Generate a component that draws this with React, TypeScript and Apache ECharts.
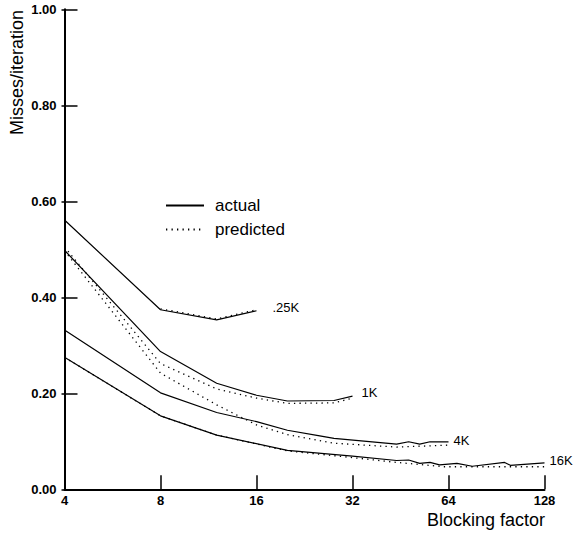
import React, { useEffect, useRef } from "react";
import * as echarts from "echarts";

// Blocking factor (x) vs misses/iteration (y)
const actual025K: [number, number][] = [[4, 0.561], [8, 0.374], [12, 0.353], [16, 0.372]];
const predicted025K: [number, number][] = [[8, 0.376], [12, 0.355], [16, 0.374]];

const actual1K: [number, number][] = [[4, 0.498], [8, 0.287], [12, 0.221], [16, 0.196], [20, 0.184], [28, 0.185], [32, 0.194]];
const predicted1K: [number, number][] = [[4, 0.505], [8, 0.262], [12, 0.209], [16, 0.19], [20, 0.179], [28, 0.18], [32, 0.19]];

const actual4K: [number, number][] = [[4, 0.332], [8, 0.201], [12, 0.16], [16, 0.141], [20, 0.123], [25, 0.112], [28, 0.106], [44, 0.094], [48, 0.099], [52, 0.094], [56, 0.099], [64, 0.099]];
const predicted4K: [number, number][] = [[4, 0.497], [8, 0.242], [12, 0.176], [16, 0.134], [20, 0.114], [28, 0.096], [44, 0.088], [64, 0.092]];

const actual16K: [number, number][] = [[4, 0.275], [8, 0.153], [12, 0.113], [20, 0.081], [32, 0.069], [44, 0.06], [48, 0.061], [52, 0.054], [56, 0.056], [60, 0.051], [68, 0.054], [76, 0.048], [96, 0.056], [100, 0.05], [128, 0.055]];
const predicted16K: [number, number][] = [[4, 0.275], [8, 0.153], [12, 0.113], [20, 0.08], [32, 0.066], [44, 0.056], [62, 0.047], [128, 0.047]];

const sizeLabels = [".25K", "1K", "4K", "16K"];
const legendNames = ["actual", "predicted"];
const xTicks = [4, 8, 16, 32, 64, 128];

const FONT = "'Liberation Sans', Arial, Helvetica, sans-serif";

export default function App() {
  const ref = useRef<HTMLDivElement>(null);
  useEffect(() => {
    if (!ref.current) return;
    const chart = echarts.init(ref.current, null, { renderer: "svg" });
    const actuals = [actual025K, actual1K, actual4K, actual16K];
    const predicteds = [predicted025K, predicted1K, predicted4K, predicted16K];
    const labelOffsets: [number, number][] = [[11, -3], [4, -4], [0, -1], [0, -2]];
    const series: any[] = [];
    predicteds.forEach((d) => {
      series.push({
        name: legendNames[1],
        type: "line",
        data: d,
        symbol: "none",
        showSymbol: false,
        lineStyle: { color: "#000", width: 1.3, type: [1.3, 4.2] },
        itemStyle: { color: "#000" },
        z: 2,
      });
    });
    actuals.forEach((d, i) => {
      series.push({
        name: legendNames[0],
        type: "line",
        data: d,
        symbol: "none",
        showSymbol: false,
        lineStyle: { color: "#000", width: 1.2, type: "solid" },
        itemStyle: { color: "#000" },
        z: 3,
        endLabel: {
          show: true,
          formatter: sizeLabels[i],
          color: "#000",
          fontSize: 13,
          fontFamily: FONT,
          distance: 5,
          offset: labelOffsets[i],
        },
      });
    });
    chart.setOption({
      animation: false,
      backgroundColor: "#fff",
      textStyle: { fontFamily: FONT },
      grid: { left: 64.5, right: 29.5, top: 9.3, bottom: 43.7, containLabel: false },
      legend: {
        data: legendNames,
        orient: "vertical",
        left: 160,
        top: 192,
        itemWidth: 38,
        itemHeight: 10,
        itemGap: 7,
        itemStyle: { opacity: 0 },
        lineStyle: { opacity: 1 },
        textStyle: { fontSize: 17, color: "#000", fontFamily: FONT, padding: [0, 0, 0, 6] },
        selectedMode: false,
      },
      xAxis: {
        type: "log",
        logBase: 2,
        min: xTicks[0],
        max: xTicks[xTicks.length - 1],
        splitNumber: 5,
        axisLine: { lineStyle: { color: "#000", width: 2 } },
        axisTick: { inside: true, length: 14, lineStyle: { color: "#000", width: 1.5 } },
        axisLabel: {
          color: "#000",
          fontWeight: "bold",
          fontSize: 13,
          margin: 5,
          fontFamily: FONT,
          formatter: (v: number) => String(Math.round(v)),
        },
        splitLine: { show: false },
      },
      yAxis: [
        {
          type: "value",
          min: 0,
          max: 1,
          interval: 0.2,
          axisLine: { show: true, lineStyle: { color: "#000", width: 2 } },
          axisTick: { show: true, inside: true, length: 13, lineStyle: { color: "#000", width: 1.5 } },
          axisLabel: {
            color: "#000",
            fontWeight: "bold",
            fontSize: 13,
            margin: 8,
            fontFamily: FONT,
            formatter: (v: number) => v.toFixed(2),
          },
          splitLine: { show: false },
        },
        {
          type: "value",
          position: "left",
          min: 0,
          max: 1,
          interval: 0.2,
          axisLine: { show: false },
          axisTick: { show: true, inside: false, length: 3, lineStyle: { color: "#000", width: 1.5 } },
          axisLabel: { show: false },
          splitLine: { show: false },
        },
      ],
      graphic: [
        {
          type: "text",
          x: 17,
          y: 10,
          rotation: Math.PI / 2,
          style: {
            text: "Misses/iteration",
            fontSize: 18,
            fontFamily: FONT,
            fill: "#000",
            align: "right",
            verticalAlign: "middle",
          },
        },
        {
          type: "text",
          x: 545,
          y: 520,
          style: {
            text: "Blocking factor",
            fontSize: 18,
            fontFamily: FONT,
            fill: "#000",
            align: "right",
            verticalAlign: "middle",
          },
        },
      ],
      series,
    });
    return () => chart.dispose();
  }, []);
  return <div ref={ref} style={{ width: 574, height: 533, position: "absolute", left: 0, top: 0 }} />;
}
